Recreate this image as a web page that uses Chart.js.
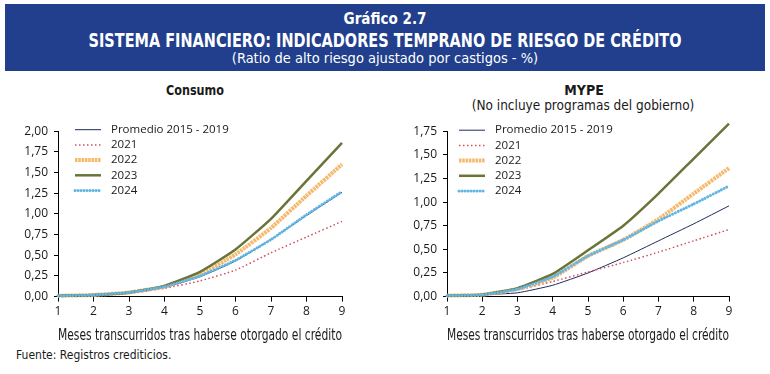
<!DOCTYPE html>
<html>
<head>
<meta charset="utf-8">
<script src="https://cdn.jsdelivr.net/npm/chart.js@4"></script>
<style>
  html,body{margin:0;padding:0;background:#fff;}
  body{width:770px;height:374px;position:relative;overflow:hidden;font-family:"Liberation Sans Narrow","DejaVu Sans Condensed",sans-serif;color:#1a1a1a;}
  #hdr{position:absolute;left:5px;top:4px;width:760px;height:67px;background:#213f8c;color:#fff;}
  .t{position:absolute;left:0;width:100%;text-align:center;white-space:nowrap;}
  .c{position:absolute;white-space:nowrap;text-align:center;}
  canvas{position:absolute;}
</style>
</head>
<body>
<div id="hdr">
  <div class="t" style="top:5px;font-size:16px;font-weight:bold;transform:scaleX(0.94);">Gráfico 2.7</div>
  <div class="t" style="top:25px;font-size:19px;font-weight:bold;transform:scaleX(0.847);">SISTEMA FINANCIERO: INDICADORES TEMPRANO DE RIESGO DE CRÉDITO</div>
  <div class="t" style="top:46px;font-size:14.5px;">(Ratio de alto riesgo ajustado por castigos - %)</div>
</div>
<div class="c" style="left:195px;top:82px;font-size:14px;font-weight:bold;transform:translateX(-50%) scaleX(0.89);">Consumo</div>
<div class="c" style="left:584px;top:82px;font-size:14px;font-weight:bold;transform:translateX(-50%);">MYPE</div>
<div class="c" style="left:583px;top:97px;font-size:13.5px;transform:translateX(-50%);">(No incluye programas del gobierno)</div>
<div style="position:absolute;left:16px;top:348px;font-size:12px;white-space:nowrap;">Fuente: Registros crediticios.</div>
<canvas id="c1" width="354" height="227" style="left:0px;top:118px;width:354px;height:227px;"></canvas>
<canvas id="c2" width="352" height="227" style="left:389px;top:118px;width:352px;height:227px;"></canvas>
<script>
// ---- data ----
const months = ["1","2","3","4","5","6","7","8","9"];
const seriesNames = ["Promedio 2015 - 2019","2021","2022","2023","2024"];

const consumoPromedio = [0.01,0.02,0.05,0.11,0.24,0.43,0.69,0.98,1.26];
const consumo2021     = [0.01,0.02,0.04,0.10,0.19,0.32,0.53,0.72,0.91];
const consumo2022     = [0.01,0.02,0.05,0.12,0.27,0.51,0.83,1.22,1.60];
const consumo2023     = [0.01,0.02,0.05,0.13,0.30,0.57,0.94,1.40,1.86];
const consumo2024     = [0.01,0.02,0.05,0.12,0.25,0.44,0.69,0.99,1.27];

const mypePromedio = [0.01,0.02,0.04,0.12,0.25,0.41,0.59,0.77,0.96];
const mype2021     = [0.01,0.02,0.07,0.16,0.26,0.36,0.47,0.59,0.71];
const mype2022     = [0.01,0.02,0.08,0.20,0.43,0.60,0.82,1.09,1.36];
const mype2023     = [0.01,0.02,0.09,0.24,0.49,0.75,1.09,1.46,1.83];
const mype2024     = [0.01,0.02,0.08,0.21,0.43,0.60,0.80,0.98,1.17];

const consumoTicksMax = 2.00;
const mypeTicksMax = 1.75;
const xAxisTitle = "Meses transcurridos tras haberse otorgado el crédito";

// ---- styles ----
const styles = [
  {color:'#1d2b5e', width:1,   dash:[],        cap:'butt',  order:5},
  {color:'#d0505f', width:1.5, dash:[1.5,2.5], cap:'butt',  order:4},
  {color:'#f6b86a', width:4,   dash:[2.5,0.8], cap:'butt',  order:3},
  {color:'#6a7438', width:2.5, dash:[],        cap:'butt',  order:2},
  {color:'#62b6e4', width:3,   dash:[0.01,3],  cap:'round', order:1}
];

const tickFont = {family:'"Open Sans", sans-serif', size:12};

function makeDatasets(arrs){
  return arrs.map((d,i)=>({
    label: seriesNames[i], data: d,
    borderColor: styles[i].color, backgroundColor: styles[i].color,
    borderWidth: styles[i].width, borderDash: styles[i].dash,
    borderCapStyle: styles[i].cap,
    pointRadius: 0, tension: 0.15, clip: false, order: styles[i].order
  }));
}

const legendPlugin = {
  id: 'inlineLegend',
  afterDatasetsDraw(chart, args, opts){
    const ctx = chart.ctx, ca = chart.chartArea;
    ctx.save();
    chart.data.datasets.forEach((ds,i)=>{
      const y = ca.top + opts.dy + i*15.2;
      const x0 = ca.left + opts.dx;
      ctx.beginPath();
      ctx.strokeStyle = ds.borderColor;
      ctx.lineWidth = ds.borderWidth;
      ctx.setLineDash(ds.borderDash);
      ctx.lineCap = ds.borderCapStyle;
      ctx.moveTo(x0, y); ctx.lineTo(x0 + 26, y);
      ctx.stroke();
      ctx.setLineDash([]);
      ctx.fillStyle = '#1a1a1a';
      ctx.font = '11.5px "Open Sans", sans-serif';
      ctx.textBaseline = 'middle';
      ctx.textAlign = 'left';
      ctx.fillText(ds.label, ca.left + opts.tx, y);
    });
    ctx.restore();
  }
};

function makeChart(id, arrs, yMax, legendOpts){
  return new Chart(document.getElementById(id), {
    type: 'line',
    data: {labels: months, datasets: makeDatasets(arrs)},
    plugins: [legendPlugin],
    options: {
      responsive: false, animation: false,
      layout: {padding: {top: 10, right: 12, left: 0, bottom: 0}},
      plugins: {legend: {display: false}, tooltip: {enabled: false}, inlineLegend: legendOpts},
      scales: {
        x: {
          offset: false,
          grid: {display: true, drawOnChartArea: false, drawTicks: true, tickLength: 5, color: '#000'},
          border: {display: true, color: '#000', width: 1},
          ticks: {font: tickFont, color: '#1a1a1a', padding: 3, maxRotation: 0},
          title: {display: true, text: xAxisTitle, color: '#1a1a1a',
                  font: {family: '"Liberation Sans Narrow","DejaVu Sans Condensed",sans-serif', size: 15},
                  padding: {top: 5, bottom: 0}}
        },
        y: {
          min: 0, max: yMax,
          afterFit(scale){ scale.width = 58; },
          grid: {display: true, drawOnChartArea: false, drawTicks: true, tickLength: 4, color: '#000'},
          border: {display: true, color: '#000', width: 1},
          ticks: {stepSize: 0.25, font: tickFont, color: '#1a1a1a', padding: 6,
                  callback: v => v.toFixed(2).replace('.', ',')}
        }
      }
    }
  });
}

makeChart('c1', [consumoPromedio, consumo2021, consumo2022, consumo2023, consumo2024], consumoTicksMax, {dx: 17, tx: 53, dy: -1.5});
makeChart('c2', [mypePromedio, mype2021, mype2022, mype2023, mype2024], mypeTicksMax, {dx: 12, tx: 48, dy: -1});
</script>
</body>
</html>
